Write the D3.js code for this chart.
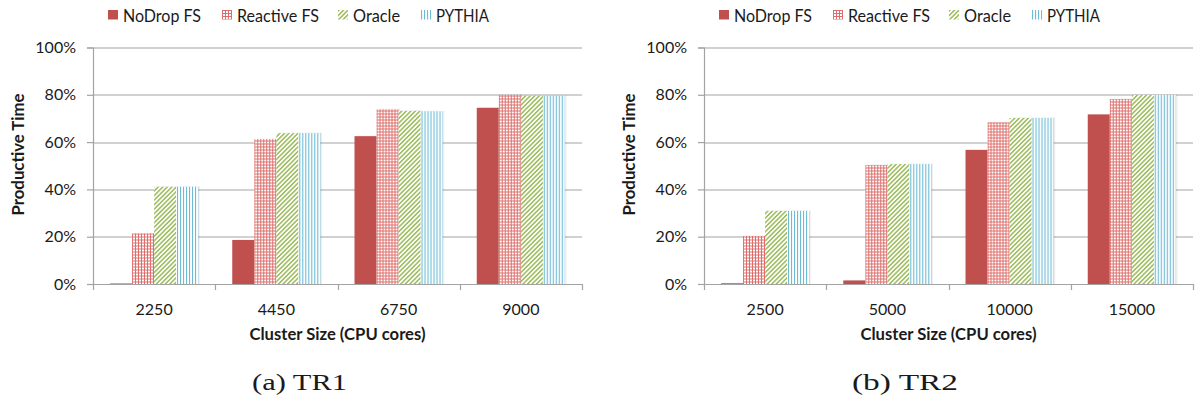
<!DOCTYPE html>
<html>
<head>
<meta charset="utf-8">
<script src="https://cdn.jsdelivr.net/npm/d3@7"></script>
<style>
  body { margin: 0; background: #fff; }
  text { font-family: Lato, "Open Sans", sans-serif; fill: #1a1a1a; }
  .caption { font-family: "Liberation Serif", "DejaVu Serif", serif; }
</style>
</head>
<body>
<div id="chart"></div>
<script>
// series and categories (values in %)
var seriesNames = ["NoDrop FS", "Reactive FS", "Oracle", "PYTHIA"];
var yTicks = [0, 20, 40, 60, 80, 100];

var tr1Sizes = ["2250", "4450", "6750", "9000"];
var tr1NoDrop = [0.2, 18.6, 62.5, 74.5];
var tr1Reactive = [21.4, 61.3, 73.9, 80.0];
var tr1Oracle = [41.1, 63.8, 73.2, 79.6];
var tr1Pythia = [41.1, 63.8, 73.0, 79.6];

var tr2Sizes = ["2500", "5000", "10000", "15000"];
var tr2NoDrop = [0.3, 1.5, 56.7, 71.7];
var tr2Reactive = [20.3, 50.3, 68.4, 78.2];
var tr2Oracle = [30.9, 50.7, 70.2, 79.9];
var tr2Pythia = [30.9, 50.7, 70.2, 80.0];

// overall size
var svgWidth = 1196;
var svgHeight = 401;

// plot area (shared by both panels)
var plotTop = 47.5;
var plotHeight = 236.5;
var plotWidth = 489;

var svg = d3.select("#chart")
    .append("svg")
    .attr("width", svgWidth)
    .attr("height", svgHeight);

// fill patterns for the series
var defs = svg.append("defs");

var grid = defs.append("pattern")
    .attr("id", "pat-reactive")
    .attr("patternUnits", "userSpaceOnUse")
    .attr("width", 3).attr("height", 3);
grid.append("rect").attr("width", 3).attr("height", 3).attr("fill", "#fff");
grid.append("rect").attr("width", 3).attr("height", 1).attr("fill", "#dc6f6c");
grid.append("rect").attr("width", 1).attr("height", 3).attr("fill", "#dc6f6c");

var diag = defs.append("pattern")
    .attr("id", "pat-oracle")
    .attr("patternUnits", "userSpaceOnUse")
    .attr("width", 3.2).attr("height", 3.2)
    .attr("patternTransform", "rotate(45)");
diag.append("rect").attr("width", 3.2).attr("height", 3.2).attr("fill", "#fff");
diag.append("rect").attr("width", 1.5).attr("height", 3.2).attr("fill", "#9bbb59");

var vert = defs.append("pattern")
    .attr("id", "pat-pythia")
    .attr("patternUnits", "userSpaceOnUse")
    .attr("width", 3).attr("height", 3);
vert.append("rect").attr("width", 3).attr("height", 3).attr("fill", "#fff");
vert.append("rect").attr("width", 1.1).attr("height", 3).attr("fill", "#6dbbd6");

var fills = ["#c0504d", "url(#pat-reactive)", "url(#pat-oracle)", "url(#pat-pythia)"];

// legend offsets from the y axis and measured label widths
var legendSwatchX = [15, 129, 245, 328];
var legendTextW = [78, 82, 47, 53];

function drawPanel(originX, sizes, seriesValues, captionText, captionX, captionW) {

    var g = svg.append("g")
        .attr("transform", `translate(${originX}, ${plotTop})`);

    // scales
    var xScale = d3.scaleBand()
        .domain(sizes)
        .range([0, plotWidth]);

    var xSub = d3.scaleBand()
        .domain(seriesNames)
        .range([17, xScale.bandwidth() - 17]);

    var yScale = d3.scaleLinear()
        .domain([0, 100])
        .range([plotHeight, 0]);

    // horizontal grid lines
    g.selectAll(".grid")
        .data(yTicks.filter(d => d > 0))
        .enter()
        .append("line")
        .attr("x1", 0)
        .attr("x2", plotWidth)
        .attr("y1", d => Math.round(yScale(d)) + 0.5)
        .attr("y2", d => Math.round(yScale(d)) + 0.5)
        .attr("stroke", "#a3a3a3")
        .attr("stroke-width", 1.2);

    // bars, one group per category
    var rows = sizes.map((s, i) => seriesNames.map((n, j) => ({ size: s, name: n, value: seriesValues[j][i], k: j })));

    var groups = g.selectAll(".cat")
        .data(rows)
        .enter()
        .append("g")
        .attr("transform", (d, i) => `translate(${xScale(sizes[i])}, 0)`);

    // faint shadow to the right of each bar
    groups.selectAll(".shadow")
        .data(d => d)
        .enter()
        .append("rect")
        .attr("x", d => xSub(d.name) + 1.5)
        .attr("y", d => yScale(d.value) - 0.5)
        .attr("width", xSub.bandwidth())
        .attr("height", d => plotHeight - yScale(d.value) + 0.5)
        .attr("fill", "#000")
        .attr("opacity", 0.07);

    groups.selectAll(".bar")
        .data(d => d)
        .enter()
        .append("rect")
        .attr("x", d => xSub(d.name))
        .attr("y", d => yScale(d.value))
        .attr("width", xSub.bandwidth())
        .attr("height", d => plotHeight - yScale(d.value))
        .attr("fill", d => fills[d.k]);

    // left axis
    var leftAxis = d3.axisLeft(yScale)
        .tickValues(yTicks)
        .tickFormat(d => d + "%")
        .tickSize(6)
        .tickPadding(11);

    var ya = g.append("g").call(leftAxis);
    ya.select(".domain").attr("stroke", "#a3a3a3").attr("stroke-width", 1.2);
    ya.selectAll(".tick line").attr("stroke", "#a3a3a3").attr("stroke-width", 1.2);
    ya.selectAll("text")
        .attr("font-size", 16)
        .attr("font-family", "Lato, sans-serif")
        .attr("fill", "#1a1a1a");

    // bottom axis (labels at band centres, ticks at band edges)
    var bottomAxis = d3.axisBottom(xScale)
        .tickSize(0)
        .tickPadding(20);

    var xa = g.append("g")
        .attr("transform", `translate(0, ${plotHeight})`)
        .call(bottomAxis);
    xa.select(".domain").attr("stroke", "#a3a3a3").attr("stroke-width", 1.2);
    xa.selectAll("text")
        .attr("font-size", 16)
        .attr("font-family", "Lato, sans-serif")
        .attr("fill", "#1a1a1a");

    var edges = sizes.map(s => xScale(s)).concat([plotWidth]);
    xa.selectAll(".edge")
        .data(edges)
        .enter()
        .append("line")
        .attr("x1", d => Math.round(d) + 0.5)
        .attr("x2", d => Math.round(d) + 0.5)
        .attr("y1", 0)
        .attr("y2", 6)
        .attr("stroke", "#a3a3a3")
        .attr("stroke-width", 1.2);

    // axis titles
    g.append("text")
        .attr("x", plotWidth / 2)
        .attr("y", 340 - plotTop)
        .attr("text-anchor", "middle")
        .attr("font-size", 17)
        .attr("font-weight", "bold")
        .attr("textLength", 176)
        .attr("lengthAdjust", "spacingAndGlyphs")
        .text("Cluster Size (CPU cores)");

    g.append("text")
        .attr("transform", `translate(-69, ${154.5 - plotTop}) rotate(-90)`)
        .attr("text-anchor", "middle")
        .attr("font-size", 17)
        .attr("font-weight", "bold")
        .attr("textLength", 122)
        .attr("lengthAdjust", "spacingAndGlyphs")
        .text("Productive Time");

    // legend
    var legend = g.selectAll(".legend")
        .data(seriesNames)
        .enter()
        .append("g")
        .attr("transform", (d, i) => `translate(${legendSwatchX[i]}, ${10 - plotTop})`);

    legend.append("rect")
        .attr("width", 10)
        .attr("height", 9.5)
        .attr("fill", (d, i) => fills[i]);

    legend.append("text")
        .attr("x", 15)
        .attr("y", 11.8)
        .attr("font-size", 17)
        .attr("textLength", (d, i) => legendTextW[i])
        .attr("lengthAdjust", "spacingAndGlyphs")
        .text(d => d);

    // panel caption
    svg.append("text")
        .attr("class", "caption")
        .attr("x", captionX)
        .attr("y", 390)
        .attr("font-size", 24)
        .attr("fill", "#111")
        .attr("textLength", captionW)
        .attr("lengthAdjust", "spacingAndGlyphs")
        .text(captionText);
}

drawPanel(93, tr1Sizes, [tr1NoDrop, tr1Reactive, tr1Oracle, tr1Pythia], "(a) TR1", 252, 95);
drawPanel(704, tr2Sizes, [tr2NoDrop, tr2Reactive, tr2Oracle, tr2Pythia], "(b) TR2", 852, 106);
</script>
</body>
</html>
